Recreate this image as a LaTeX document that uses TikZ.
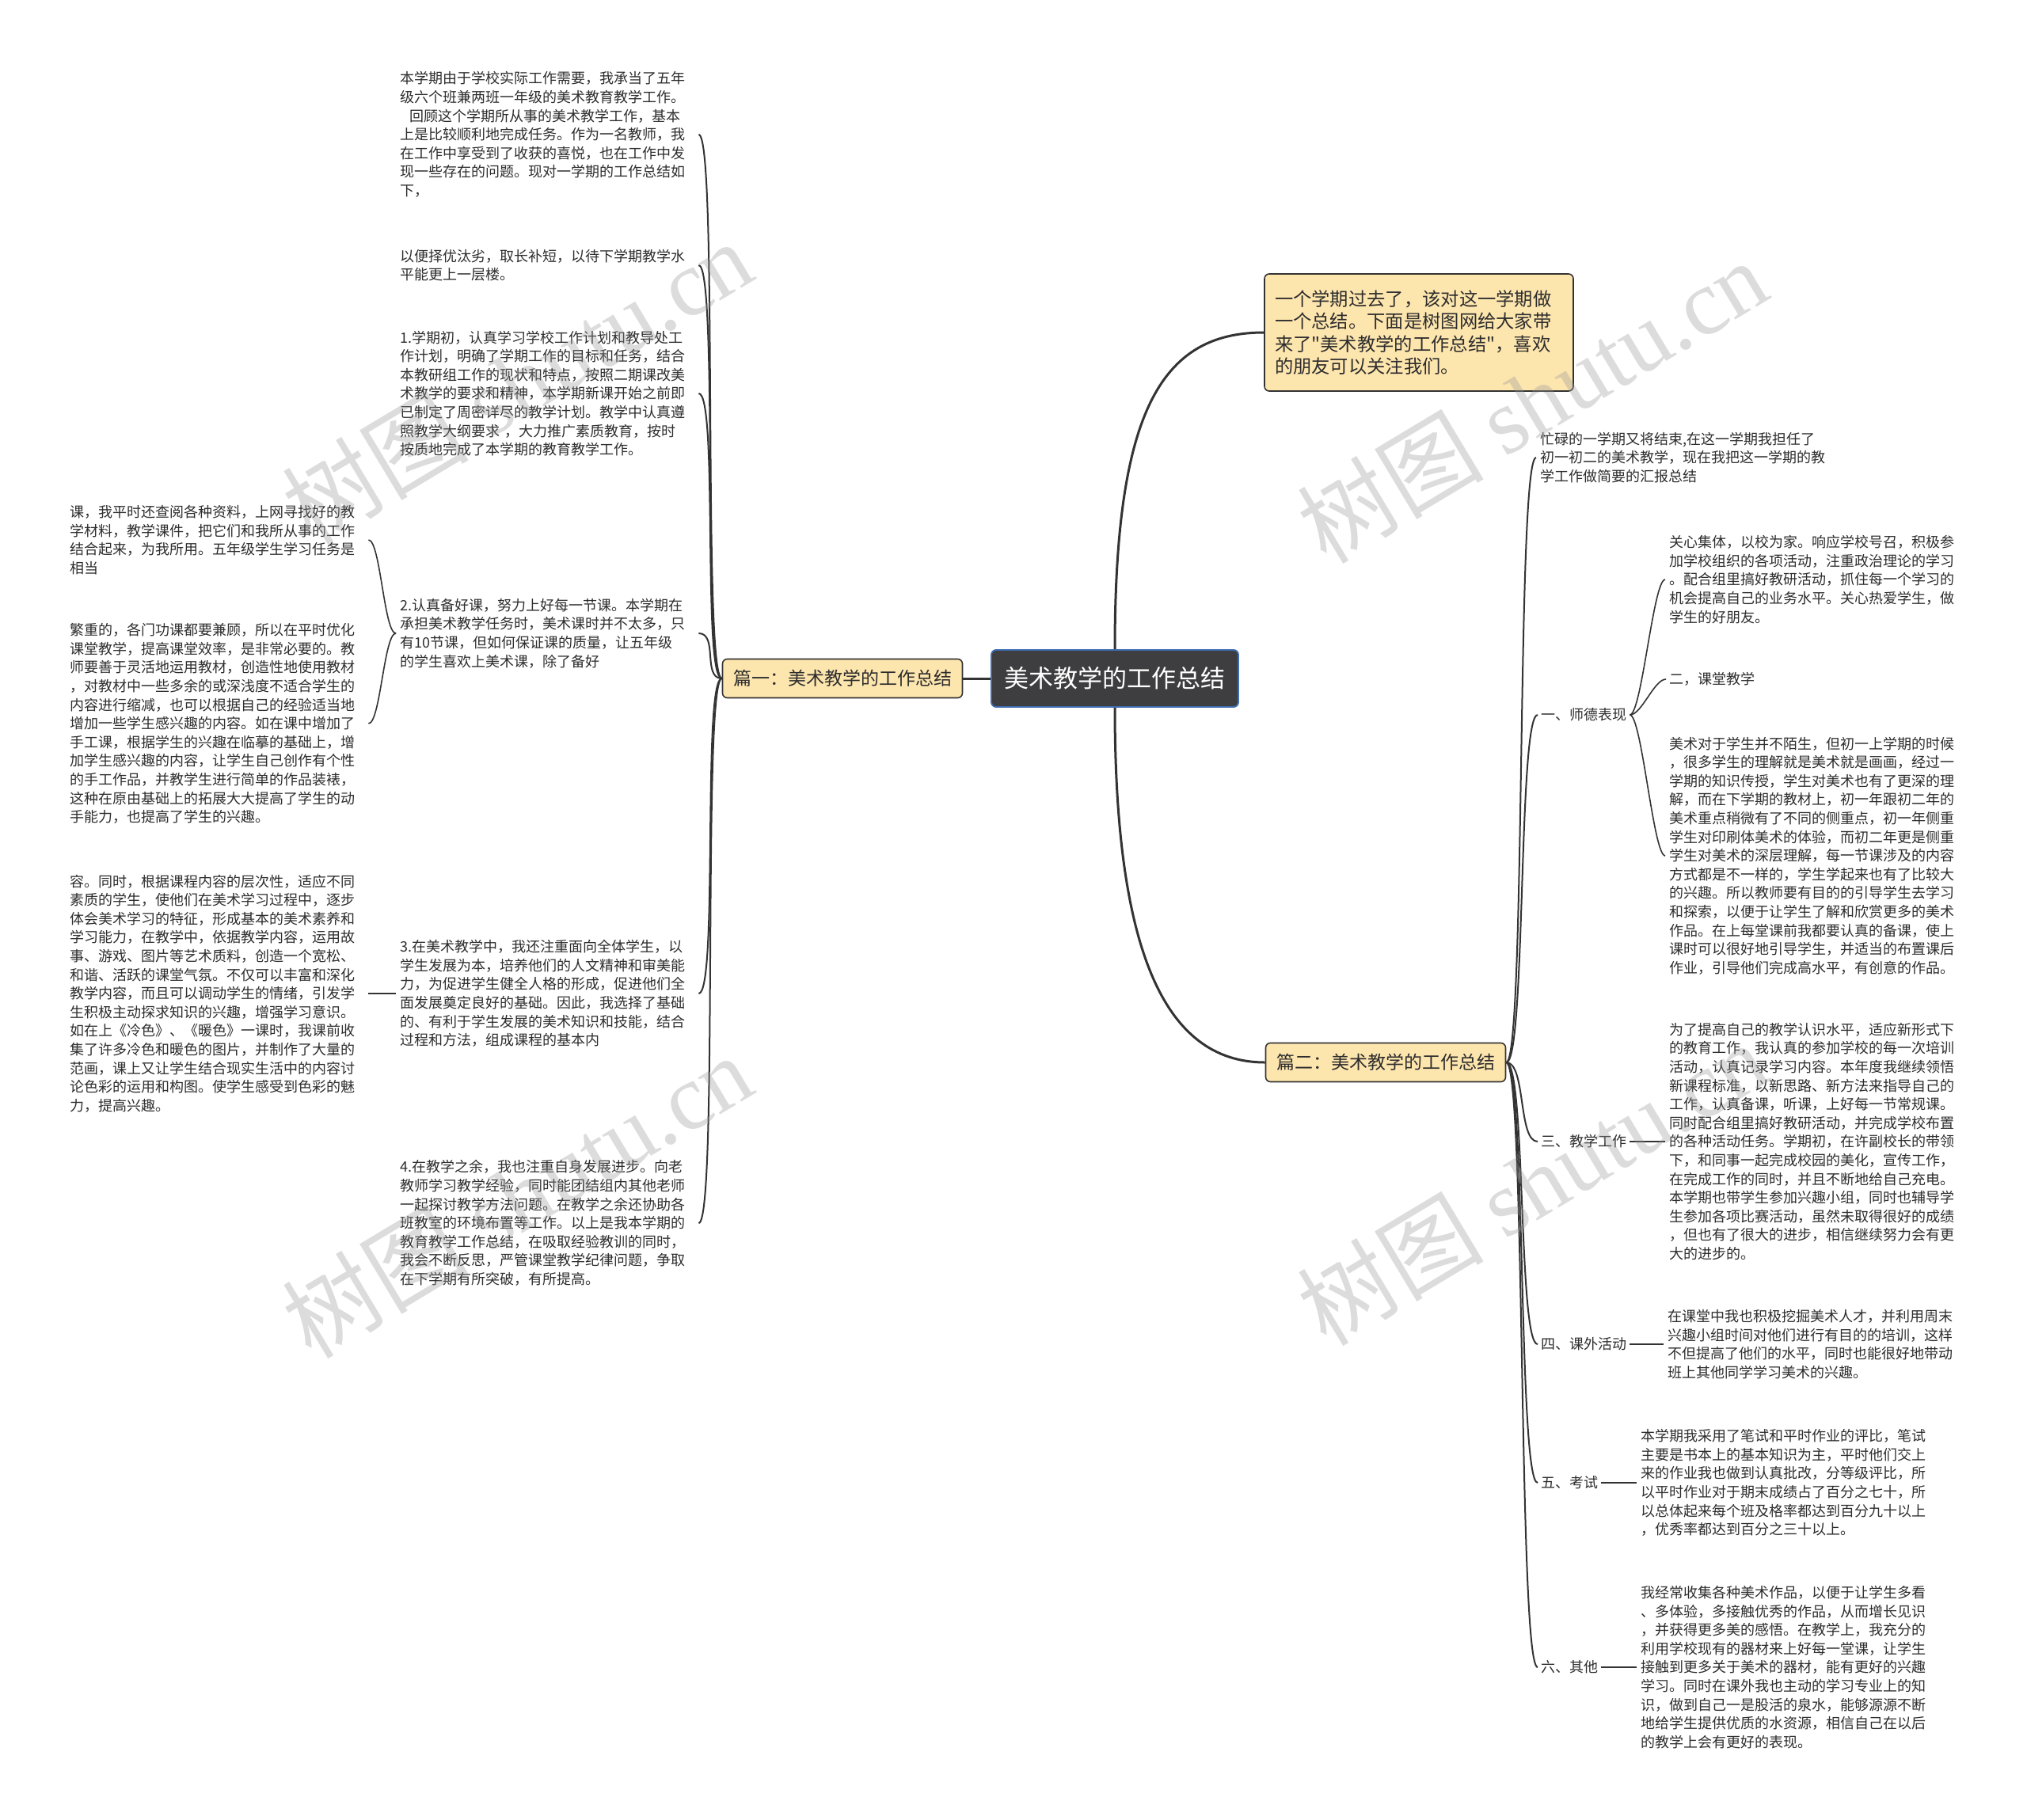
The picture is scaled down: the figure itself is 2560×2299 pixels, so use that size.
\documentclass[tikz,border=0pt]{standalone}
\usepackage{fontspec}
\setmainfont{Noto Sans CJK SC}
\newfontfamily\plainfont{Noto Sans CJK SC}
\newfontfamily\wmlatin{Liberation Serif}
\usetikzlibrary{positioning}
\definecolor{linegray}{RGB}{51,51,51}
\definecolor{textgray}{RGB}{45,45,45}
\definecolor{rootfill}{RGB}{62,62,64}
\definecolor{rootdraw}{RGB}{62,110,178}
\definecolor{tanfill}{RGB}{253,229,174}
\definecolor{markgray}{RGB}{150,150,150}
\newcommand{\leaffont}{\fontsize{18pt}{23.6pt}\selectfont}
\newcommand{\branchfont}{\fontsize{23pt}{28pt}\selectfont}
\newcommand{\introfont}{\fontsize{23.3pt}{28.3pt}\selectfont}
\newcommand{\rootfont}{\fontsize{31pt}{36pt}\selectfont}
\newcommand{\markfont}{\fontsize{118pt}{118pt}\selectfont}
\newcommand{\dq}{{\plainfont"}}
\setlength{\parindent}{0pt}

\begin{document}
\begin{tikzpicture}[
    x=1pt, y=-1pt,
    rootbox/.style={
        rounded corners=6pt,
        draw=rootdraw,
        line width=1.8pt,
        fill=rootfill,
        text=white,
        minimum width=312pt,
        minimum height=72pt,
        font=\rootfont
    },
    branchbox/.style={
        rounded corners=6pt,
        draw=linegray,
        line width=1.6pt,
        fill=tanfill,
        text=textgray,
        minimum width=303pt,
        minimum height=49pt,
        font=\branchfont
    },
    leaf/.style={
        anchor=west,
        align=left,
        text width=372pt,
        inner xsep=5pt,
        text=textgray,
        font=\leaffont
    },
    tag/.style={
        anchor=west,
        inner sep=4pt,
        text=textgray,
        font=\leaffont
    },
    mainlink/.style={draw=linegray, line width=3pt},
    sublink/.style={draw=linegray, line width=2pt},
    leaflink/.style={draw=linegray, line width=1.6pt},
    watermark/.style={text=markgray, opacity=0.33, rotate=31, font=\markfont}
]
\fill[white] (0,0) rectangle (2560,2299);
\useasboundingbox (0,0) rectangle (2560,2299);

% centre and main branches
\node[rootbox] (root) at (1408,857) {美术教学的工作总结};
\node[branchbox] (p1) at (1064,857) {篇一：美术教学的工作总结};
\node[branchbox] (p2) at (1750,1342) {篇二：美术教学的工作总结};
\node[branchbox, align=left, text width=364pt, inner xsep=13pt,
      minimum width=390pt, minimum height=148pt, font=\introfont]
    (intro) at (1792,420)
{一个学期过去了，该对这一学期做\\一个总结。下面是树图网给大家带\\来了\dq 美术教学的工作总结\dq ，喜欢\\的朋友可以关注我们。};

% left side
\node[leaf] (l1) at (500,170)
{本学期由于学校实际工作需要，我承当了五年\\级六个班兼两班一年级的美术教育教学工作。\\\hspace*{12pt}回顾这个学期所从事的美术教学工作，基本\\上是比较顺利地完成任务。作为一名教师，我\\在工作中享受到了收获的喜悦，也在工作中发\\现一些存在的问题。现对一学期的工作总结如\\下，};
\node[leaf] (l2) at (500,335)
{以便择优汰劣，取长补短，以待下学期教学水\\平能更上一层楼。};
\node[leaf] (l3) at (500,497)
{1.学期初，认真学习学校工作计划和教导处工\\作计划，明确了学期工作的目标和任务，结合\\本教研组工作的现状和特点，按照二期课改美\\术教学的要求和精神，本学期新课开始之前即\\已制定了周密详尽的教学计划。教学中认真遵\\照教学大纲要求~，大力推广素质教育，按时\\按质地完成了本学期的教育教学工作。};
\node[leaf] (l4) at (500,800)
{2.认真备好课，努力上好每一节课。本学期在\\承担美术教学任务时，美术课时并不太多，只\\有10节课，但如何保证课的质量，让五年级\\的学生喜欢上美术课，除了备好};
\node[leaf] (l5) at (500,1255)
{3.在美术教学中，我还注重面向全体学生，以\\学生发展为本，培养他们的人文精神和审美能\\力，为促进学生健全人格的形成，促进他们全\\面发展奠定良好的基础。因此，我选择了基础\\的、有利于学生发展的美术知识和技能，结合\\过程和方法，组成课程的基本内};
\node[leaf] (l6) at (500,1545)
{4.在教学之余，我也注重自身发展进步。向老\\教师学习教学经验，同时能团结组内其他老师\\一起探讨教学方法问题。在教学之余还协助各\\班教室的环境布置等工作。以上是我本学期的\\教育教学工作总结，在吸取经验教训的同时，\\我会不断反思，严管课堂教学纪律问题，争取\\在下学期有所突破，有所提高。};

\node[leaf] (l4a) at (83,682)
{课，我平时还查阅各种资料，上网寻找好的教\\学材料，教学课件，把它们和我所从事的工作\\结合起来，为我所用。五年级学生学习任务是\\相当};
\node[leaf] (l4b) at (83,914)
{繁重的，各门功课都要兼顾，所以在平时优化\\课堂教学，提高课堂效率，是非常必要的。教\\师要善于灵活地运用教材，创造性地使用教材\\，对教材中一些多余的或深浅度不适合学生的\\内容进行缩减，也可以根据自己的经验适当地\\增加一些学生感兴趣的内容。如在课中增加了\\手工课，根据学生的兴趣在临摹的基础上，增\\加学生感兴趣的内容，让学生自己创作有个性\\的手工作品，并教学生进行简单的作品装裱，\\这种在原由基础上的拓展大大提高了学生的动\\手能力，也提高了学生的兴趣。};
\node[leaf] (l5a) at (83,1255)
{容。同时，根据课程内容的层次性，适应不同\\素质的学生，使他们在美术学习过程中，逐步\\体会美术学习的特征，形成基本的美术素养和\\学习能力，在教学中，依据教学内容，运用故\\事、游戏、图片等艺术质料，创造一个宽松、\\和谐、活跃的课堂气氛。不仅可以丰富和深化\\教学内容，而且可以调动学生的情绪，引发学\\生积极主动探求知识的兴趣，增强学习意识。\\如在上《冷色》、《暖色》一课时，我课前收\\集了许多冷色和暖色的图片，并制作了大量的\\范画，课上又让学生结合现实生活中的内容讨\\论色彩的运用和构图。使学生感受到色彩的魅\\力，提高兴趣。};

% right side
\node[leaf] (r1) at (1940,578)
{忙碌的一学期又将结束,在这一学期我担任了\\初一初二的美术教学，现在我把这一学期的教\\学工作做简要的汇报总结};
\node[tag] (r2) at (1942,903) {一、师德表现};
\node[tag] (r3) at (1942,1442) {三、教学工作};
\node[tag] (r4) at (1942,1698) {四、课外活动};
\node[tag] (r5) at (1942,1873) {五、考试};
\node[tag] (r6) at (1942,2106) {六、其他};

\node[leaf] (r2a) at (2103,732)
{关心集体，以校为家。响应学校号召，积极参\\加学校组织的各项活动，注重政治理论的学习\\。配合组里搞好教研活动，抓住每一个学习的\\机会提高自己的业务水平。关心热爱学生，做\\学生的好朋友。};
\node[tag] (r2b) at (2104,858) {二，课堂教学};
\node[leaf] (r2c) at (2103,1081)
{美术对于学生并不陌生，但初一上学期的时候\\，很多学生的理解就是美术就是画画，经过一\\学期的知识传授，学生对美术也有了更深的理\\解，而在下学期的教材上，初一年跟初二年的\\美术重点稍微有了不同的侧重点，初一年侧重\\学生对印刷体美术的体验，而初二年更是侧重\\学生对美术的深层理解，每一节课涉及的内容\\方式都是不一样的，学生学起来也有了比较大\\的兴趣。所以教师要有目的的引导学生去学习\\和探索，以便于让学生了解和欣赏更多的美术\\作品。在上每堂课前我都要认真的备课，使上\\课时可以很好地引导学生，并适当的布置课后\\作业，引导他们完成高水平，有创意的作品。};
\node[leaf] (r3a) at (2103,1442)
{为了提高自己的教学认识水平，适应新形式下\\的教育工作，我认真的参加学校的每一次培训\\活动，认真记录学习内容。本年度我继续领悟\\新课程标准，以新思路、新方法来指导自己的\\工作，认真备课，听课，上好每一节常规课。\\同时配合组里搞好教研活动，并完成学校布置\\的各种活动任务。学期初，在许副校长的带领\\下，和同事一起完成校园的美化，宣传工作，\\在完成工作的同时，并且不断地给自己充电。\\本学期也带学生参加兴趣小组，同时也辅导学\\生参加各项比赛活动，虽然未取得很好的成绩\\，但也有了很大的进步，相信继续努力会有更\\大的进步的。};
\node[leaf] (r4a) at (2101,1698)
{在课堂中我也积极挖掘美术人才，并利用周末\\兴趣小组时间对他们进行有目的的培训，这样\\不但提高了他们的水平，同时也能很好地带动\\班上其他同学学习美术的兴趣。};
\node[leaf] (r5a) at (2067,1873)
{本学期我采用了笔试和平时作业的评比，笔试\\主要是书本上的基本知识为主，平时他们交上\\来的作业我也做到认真批改，分等级评比，所\\以平时作业对于期末成绩占了百分之七十，所\\以总体起来每个班及格率都达到百分九十以上\\，优秀率都达到百分之三十以上。};
\node[leaf] (r6a) at (2067,2106)
{我经常收集各种美术作品，以便于让学生多看\\、多体验，多接触优秀的作品，从而增长见识\\，并获得更多美的感悟。在教学上，我充分的\\利用学校现有的器材来上好每一堂课，让学生\\接触到更多关于美术的器材，能有更好的兴趣\\学习。同时在课外我也主动的学习专业上的知\\识，做到自己一是股活的泉水，能够源源不断\\地给学生提供优质的水资源，相信自己在以后\\的教学上会有更好的表现。};

% connectors
\draw[mainlink] (root.west) -- (p1.east);
\draw[mainlink] (root.north) .. controls +(0,-300) and +(-130,0) .. (intro.west);
\draw[mainlink] (root.south) .. controls +(0,300) and +(-130,0) .. (p2.west);

\foreach \n in {l1,l2,l3,l4,l5,l6}
    \draw[sublink] (p1.west) .. controls +(-25,0) and +(25,0) .. (\n.east);
\foreach \n in {r1,r2,r3,r4,r5,r6}
    \draw[sublink] (p2.east) .. controls +(25,0) and +(-25,0) .. (\n.west);

\foreach \n in {l4a,l4b}
    \draw[leaflink] (l4.west) .. controls +(-15,0) and +(15,0) .. (\n.east);
\draw[leaflink] (l5.west) -- (l5a.east);
\foreach \n in {r2a,r2b,r2c}
    \draw[leaflink] (r2.east) .. controls +(15,0) and +(-15,0) .. (\n.west);
\draw[leaflink] (r3.east) -- (r3a.west);
\draw[leaflink] (r4.east) -- (r4a.west);
\draw[leaflink] (r5.east) -- (r5a.west);
\draw[leaflink] (r6.east) -- (r6a.west);

% watermarks
\node[watermark] (wm1) at (653,482) {树图 {\wmlatin shutu.cn}};
\node[watermark] (wm2) at (653,1510) {树图 {\wmlatin shutu.cn}};
\node[watermark] (wm3) at (1935,506) {树图 {\wmlatin shutu.cn}};
\node[watermark] (wm4) at (1935,1494) {树图 {\wmlatin shutu.cn}};
\end{tikzpicture}
\end{document}
